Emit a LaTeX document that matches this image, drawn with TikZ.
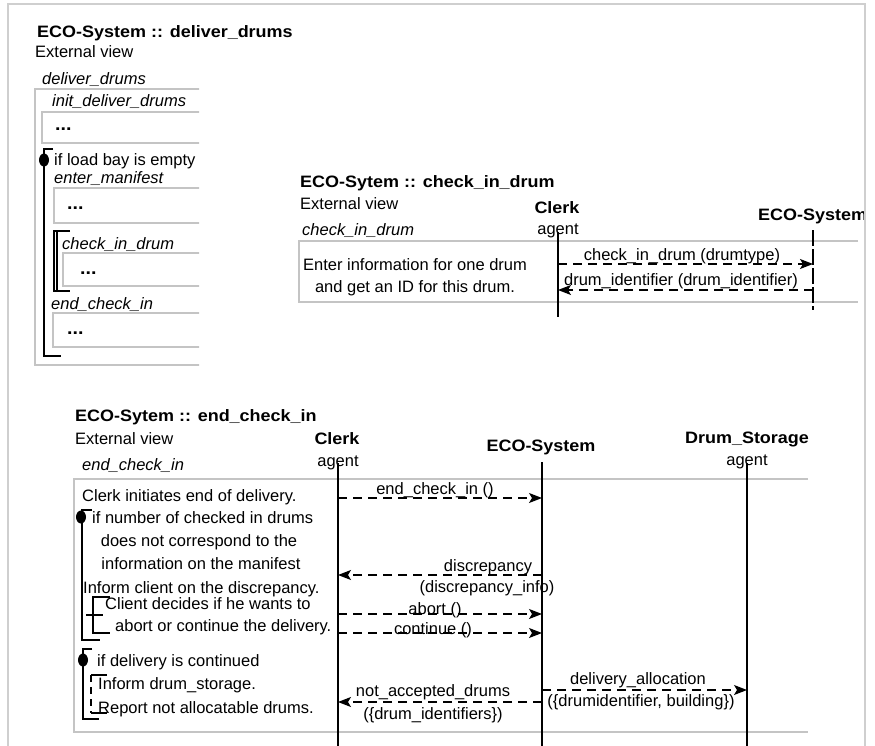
\documentclass[tikz,border=0pt]{standalone}
\usepackage{fontspec}
\setmainfont{Liberation Sans}
\newfontfamily\bdfont{Liberation Sans Bold}[FakeStretch=1.09]
\usetikzlibrary{arrows.meta}
\definecolor{boxgray}{HTML}{C4C4C4}
\definecolor{framegray}{HTML}{CFCFCF}
\newcommand\fs{\fontsize{16.5}{20}\selectfont}
\begin{document}
\begin{tikzpicture}[x=1pt,y=-1pt,
  txt/.style={inner sep=0pt, anchor=base west, font=\fs},
  ctxt/.style={inner sep=0pt, anchor=base, font=\fs},
  hd/.style={txt, font=\fs\bdfont},
  chd/.style={ctxt, font=\fs\bdfont},
  it/.style={txt, font=\fs\itshape},
  dots/.style={txt, font=\fontsize{18}{20}\selectfont\bdfont},
  box/.style={draw=boxgray, line width=2.4pt},
  frame/.style={draw=framegray, line width=1.6pt},
  life/.style={line width=2pt},
  lifedash/.style={line width=2pt, dash pattern=on 16pt off 3pt},
  msg/.style={line width=1.2pt, dash pattern=on 9pt off 6pt,
              -{Stealth[length=13pt,width=10pt,inset=3pt]}},
  cond/.style={line width=1.5pt},
  condmark/.style={fill=black},
]
\useasboundingbox (0,0) rectangle (875,746);

% page frame
\draw[frame] (8,746) -- (8,4) -- (865,4) -- (865,746);

% ---------------- deliver_drums ----------------
\node[hd] (t1) at (37,38) {ECO-System :: deliver\_drums};
\node[txt] (v1) at (35,58) {External view};
\node[it] (dd) at (42,85) {deliver\_drums};
\begin{scope}
  \clip (9,5) rectangle (199,380);
  \draw[box] (35,89) rectangle (260,365);
  \node[it] (idd) at (52,107) {init\_deliver\_drums};
  \draw[box] (42,112) rectangle (260,143);
  \node[dots] (d1) at (55,131) {...};
  \node[txt] (c1) at (54,166) {if load bay is empty};
  \node[it] (em) at (54,184) {enter\_manifest};
  \draw[box] (54,188) rectangle (260,223);
  \node[dots] (d2) at (67,210) {...};
  \node[it] (cid) at (62,249) {check\_in\_drum};
  \draw[box] (63,253) rectangle (260,286);
  \node[dots] (d3) at (80,274) {...};
  \node[it] (eci) at (51,309) {end\_check\_in};
  \draw[box] (53,313) rectangle (260,347);
  \node[dots] (d4) at (67,334) {...};
\end{scope}
% condition bracket
\draw[cond] (53,149) -- (44,149) -- (44,356) -- (61,356);
\fill[condmark] (44,160) ellipse (5 and 6.5);
% repetition bracket
\draw[line width=1.2pt] (70,231) -- (54,231) -- (54,291) -- (70,291);
\draw[line width=1.2pt] (57,231) -- (57,291);

% ---------------- check_in_drum ----------------
\node[hd] (t2) at (300,188) {ECO-Sytem :: check\_in\_drum};
\node[txt] (v2) at (300,210) {External view};
\node[it] (cid2) at (302,235) {check\_in\_drum};
\node[chd] (clerk2) at (557,213) {Clerk};
\node[ctxt] (agent2) at (558,234) {agent};
\begin{scope}
  \clip (9,5) rectangle (863,400);
  \node[hd] (eco2) at (758,221) {ECO-System};
\end{scope}
\draw[box] (858,241) -- (299,241) -- (299,302) -- (858,302);
\node[ctxt] (e2a) at (415,270) {Enter information for one drum};
\node[ctxt] (e2b) at (415,292) {and get an ID for this drum.};
\coordinate (cl2top) at (558,232);
\coordinate (cl2bot) at (558,317);
\coordinate (ec2top) at (813,230);
\coordinate (ec2bot) at (813,310);
\draw[life] (cl2top) -- (cl2bot);
\draw[lifedash] (ec2top) -- (ec2bot);
\coordinate (m1a) at (558,264);
\coordinate (m1b) at (813,264);
\coordinate (m2a) at (813,290);
\coordinate (m2b) at (558,290);
\draw[msg] (m1a) -- (m1b);
\draw[msg] (m2a) -- (m2b);
\node[ctxt] (l1) at (682,260) {check\_in\_drum (drumtype)};
\node[ctxt] (l2) at (681,285) {drum\_identifier (drum\_identifier)};

% ---------------- end_check_in ----------------
\node[hd] (t3) at (75,421) {ECO-Sytem :: end\_check\_in};
\node[txt] (v3) at (75,444) {External view};
\node[it] (eci3) at (82,470) {end\_check\_in};
\node[chd] (clerk3) at (337,444) {Clerk};
\node[ctxt] (agent3) at (338,466) {agent};
\node[chd] (eco3) at (541,451) {ECO-System};
\node[chd] (ds3) at (747,443) {Drum\_Storage};
\node[ctxt] (agent3b) at (747,465) {agent};
\draw[box] (808,479) -- (74,479) -- (74,732) -- (808,732);

\coordinate (cl3top) at (338,463);
\coordinate (cl3bot) at (338,746);
\coordinate (ec3top) at (542,462);
\coordinate (ec3bot) at (542,746);
\coordinate (ds3top) at (747,463);
\coordinate (ds3bot) at (747,746);
\draw[life] (cl3top) -- (cl3bot);
\draw[life] (ec3top) -- (ec3bot);
\draw[life] (ds3top) -- (ds3bot);

% left column texts
\node[txt] (s1) at (82,501) {Clerk initiates end of delivery.};
\node[txt] (s2) at (92,523) {if number of checked in drums};
\node[ctxt] (s3) at (199,546) {does not correspond to the};
\node[ctxt] (s4) at (201,569) {information on the manifest};
\node[txt] (s5) at (83,593) {Inform client on the discrepancy.};
\node[txt] (s6) at (105,609) {Client decides if he wants to};
\node[txt] (s7) at (115,631) {abort or continue the delivery.};
\node[txt] (s8) at (97,666) {if delivery is continued};
\node[txt] (s9) at (98,689) {Inform drum\_storage.};
\node[txt] (s10) at (98,713) {Report not allocatable drums.};

% condition brackets
\draw[cond] (92,510) -- (82,510) -- (82,640) -- (100,640);
\fill[condmark] (81,517) ellipse (5 and 6.5);
\draw[cond] (92,649) -- (83,649) -- (83,719) -- (99,719);
\fill[condmark] (83,660) ellipse (5 and 6.5);
% alternative bracket
\draw[line width=1.2pt] (110,597) -- (93,597) -- (93,633) -- (110,633);
\draw[line width=2pt] (86,615) -- (103,615);
% parallel bracket
\draw[line width=1.2pt] (107,675) -- (91,675);
\draw[line width=1.2pt, dash pattern=on 7pt off 5pt] (91,675) -- (91,713);
\draw[line width=1.2pt] (91,713) -- (107,713);

% messages
\coordinate (a1) at (338,498);
\coordinate (b1) at (542,498);
\draw[msg] (a1) -- (b1);
\node[ctxt] (ml1) at (435,494) {end\_check\_in ()};

\coordinate (a2) at (542,575);
\coordinate (b2) at (338,575);
\draw[msg] (a2) -- (b2);
\node[ctxt] (ml2a) at (488,571) {discrepancy};
\node[ctxt] (ml2b) at (487,592) {(discrepancy\_info)};

\coordinate (a3) at (338,614);
\coordinate (b3) at (542,614);
\draw[msg] (a3) -- (b3);
\node[ctxt] (ml3) at (435,614) {abort ()};

\coordinate (a4) at (338,633);
\coordinate (b4) at (542,633);
\draw[msg] (a4) -- (b4);
\node[ctxt] (ml4) at (433,634) {continue ()};

\coordinate (a5) at (542,702);
\coordinate (b5) at (338,702);
\draw[msg] (a5) -- (b5);
\node[ctxt] (ml5a) at (433,696) {not\_accepted\_drums};
\node[ctxt] (ml5b) at (433,719) {(\{drum\_identifiers\})};

\coordinate (a6) at (542,690);
\coordinate (b6) at (747,690);
\draw[msg] (a6) -- (b6);
\node[ctxt] (ml6a) at (638,684) {delivery\_allocation};
\node[ctxt] (ml6b) at (641,706) {(\{drumidentifier, building\})};
\end{tikzpicture}
\end{document}
